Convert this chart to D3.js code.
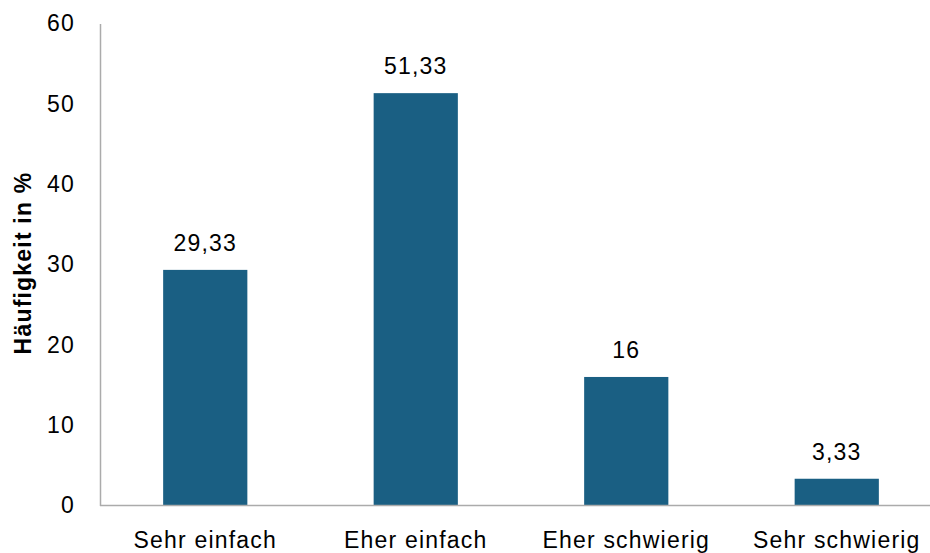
<!DOCTYPE html>
<html><head><meta charset="utf-8">
<script src="https://cdn.jsdelivr.net/npm/d3@7"></script>
<style>body{margin:0;background:#fff}svg{display:block}text{font-family:"Liberation Sans",Arial,sans-serif;fill:#000}</style>
</head><body>
<svg id="c" width="930" height="553"></svg>
<script>
const categories = ["Sehr einfach","Eher einfach","Eher schwierig","Sehr schwierig"];
const values = [29.33, 51.33, 16, 3.33];
const yTicks = [0,10,20,30,40,50,60];
const yTitle = "Häufigkeit in %";

const FONT = "Liberation Sans, Arial, sans-serif";
const FS = 23, LS = 1.2;
const svg = d3.select("#c");
const x = d3.scaleBand().domain(categories).range([100,942]).paddingInner(0.6).paddingOuter(0.3);
const y = d3.scaleLinear().domain([0,60]).range([505.5,23.5]);
const fmt = v => String(v).replace(".", ",");

svg.selectAll("rect.bar").data(values).join("rect").attr("class","bar")
  .attr("x",(d,i)=>x(categories[i])).attr("width",x.bandwidth())
  .attr("y",d=>y(d)).attr("height",d=>y(0)-y(d)).attr("fill","#1a5f83");

svg.selectAll("text.val").data(values).join("text").attr("class","val")
  .attr("x",(d,i)=>x(categories[i])+x.bandwidth()/2).attr("y",d=>y(d)-19)
  .attr("text-anchor","middle").attr("font-size",FS).attr("letter-spacing",LS).text(fmt);

const ya = svg.append("g").attr("transform","translate(100,0)")
  .call(d3.axisLeft(y).tickValues(yTicks).tickSize(0).tickPadding(25));
ya.select(".domain").attr("stroke","#ababab").attr("stroke-width",1.5);
ya.selectAll("text").attr("font-size",FS).attr("font-family",FONT).attr("letter-spacing",LS);

const xa = svg.append("g").attr("transform","translate(0,505.5)")
  .call(d3.axisBottom(x).tickSize(0).tickPadding(26));
xa.select(".domain").attr("d","M100,0H930").attr("stroke","#ababab").attr("stroke-width",1.5);
xa.selectAll("text").attr("font-size",FS).attr("font-family",FONT).attr("letter-spacing",LS);

svg.append("text").attr("transform","translate(31,263) rotate(-90)")
  .attr("text-anchor","middle").attr("font-size",FS).attr("font-weight","bold")
  .attr("letter-spacing",LS).text(yTitle);
</script>
</body></html>
